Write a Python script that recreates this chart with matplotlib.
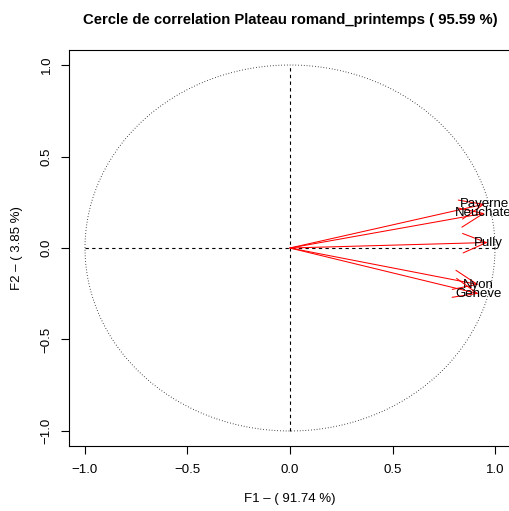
import numpy as np
import matplotlib.pyplot as plt

# correlations of the variables with the first two factors
stations = ['Payerne', 'Neuchatel', 'Pully', 'Nyon', 'Geneve']
f1 = [0.95, 0.95, 0.965, 0.92, 0.92]
f2 = [0.24, 0.19, 0.03, -0.20, -0.25]

ticks = [-1.0, -0.5, 0.0, 0.5, 1.0]

plt.rcParams['font.family'] = ['Liberation Sans', 'DejaVu Sans']

fig = plt.figure(figsize=(5.1, 5.11), dpi=100)
ax = fig.add_axes([69/510, 1-446/511, 442/510, 396/511])

theta = np.linspace(0, 2*np.pi, 400)
ax.plot(np.cos(theta), np.sin(theta), color='black', lw=0.7, ls=(0, (0.7, 2.2)))
ax.plot([-1, 1], [0, 0], color='black', lw=0.8, ls=(0, (3, 3)))
ax.plot([0, 0], [-1, 1], color='black', lw=0.8, ls=(0, (3, 3)))

for name, x, y in zip(stations, f1, f2):
    ax.annotate('', xy=(x, y), xytext=(0, 0),
                arrowprops=dict(arrowstyle='->,head_length=17,head_width=7',
                                mutation_scale=1, color='red', lw=0.75,
                                shrinkA=0, shrinkB=0))
    ax.text(x, y, name, ha='center', va='center', fontsize=9.5, clip_on=False)

ax.set_xlim(-1.078, 1.078)
ax.set_ylim(-1.082, 1.082)
ax.set_xticks(ticks)
ax.set_yticks(ticks)
ax.set_xticklabels(['%.1f' % t if t >= 0 else '\u2212%.1f' % -t for t in ticks])
ax.set_yticklabels(['%.1f' % t if t >= 0 else '\u2212%.1f' % -t for t in ticks],
                   rotation=90, va='center')
ax.tick_params(direction='out', length=5.8, width=0.8, labelsize=9.5)
ax.tick_params(axis='x', pad=7.5)
ax.tick_params(axis='y', pad=6)
for s in ax.spines.values():
    s.set_linewidth(0.8)

fig.text(290/510, 1-20/511, 'Cercle de correlation Plateau romand_printemps ( 95.59 %)',
         ha='center', va='center', fontsize=10.7, fontweight='bold')
fig.text(290/510, 1-499/511, 'F1 \u2013 ( 91.74 %)', ha='center', va='center', fontsize=9.5)
fig.text(17/510, 1-248/511, 'F2 \u2013 ( 3.85 %)', ha='center', va='center',
         rotation=90, fontsize=9.5)

fig.savefig('out.png', dpi=100)
